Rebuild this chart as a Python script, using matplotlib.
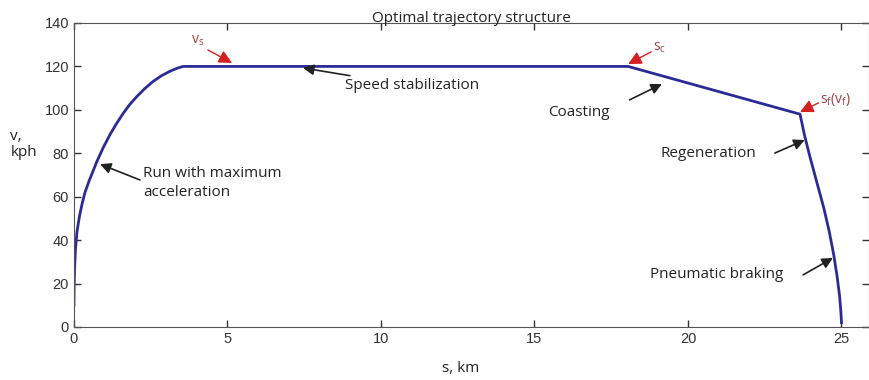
import numpy as np
import matplotlib.pyplot as plt

plt.rcParams['font.family'] = 'Liberation Sans'

# trajectory segments: s in km, v in kph
s_acc = [0, 0.005, 0.02, 0.05, 0.1, 0.18, 0.27, 0.36, 0.5, 0.74, 0.95, 1.17,
         1.4, 1.61, 1.82, 2.04, 2.3, 2.57, 2.85, 3.13, 3.35, 3.55]
v_acc = [10, 18, 27, 36, 44, 51, 57, 62, 67.5, 76, 82.5, 88.5,
         94, 98.5, 102.5, 106, 109.7, 113, 115.7, 117.8, 119.1, 120]
s_cruise = [3.55, 18.05]
v_cruise = [120, 120]
s_coast = [18.05, 23.65]
v_coast = [120, 98]
s_brake = [23.65, 23.8, 23.97, 24.19, 24.42, 24.6, 24.75, 24.86, 24.94,
           24.98, 25.0]
v_brake = [98, 88, 78.5, 67, 55, 44, 33, 23, 14, 7, 2]

s = np.concatenate([s_acc, s_cruise[1:], s_coast[1:], s_brake[1:]])
v = np.concatenate([v_acc, v_cruise[1:], v_coast[1:], v_brake[1:]])

fig = plt.figure(figsize=(8.7, 3.8), dpi=100)
ax = fig.add_axes([0.085, 0.1395, 0.914, 0.8])

ax.plot(s, v, color='#2b2b95', lw=2, solid_joinstyle='round')

ax.set_xlim(0, 25.9)
ax.set_ylim(0, 140)
ax.set_xticks([0, 5, 10, 15, 20, 25])
ax.set_yticks(np.arange(0, 141, 20))
ax.tick_params(direction='in', top=True, right=True, length=5,
               labelsize=10.5, colors='#333333', width=1)
for sp in ax.spines.values():
    sp.set_color('#555555')

ax.set_title('Optimal trajectory structure', fontsize=11, family='Open Sans',
             pad=1, color='#222222')
fig.text(0.53, 0.02, 's, km', fontsize=11, family='Open Sans', ha='center',
         color='#222222')
fig.text(0.012, 0.62, 'v,\nkph', fontsize=11, family='Open Sans', ha='left',
         va='center', color='#222222', linespacing=1.1)

txt = dict(fontsize=11, family='Open Sans', color='#222222', va='center')
blk = dict(arrowstyle='-|>', color='#222222', lw=1.2,
           mutation_scale=16, shrinkA=0, shrinkB=0)

ax.annotate('Speed stabilization', xy=(7.46, 119.3), xytext=(8.83, 111), **txt,
            arrowprops=blk)
ax.annotate('', xy=(19.15, 111.9), xytext=(18.1, 104.6), arrowprops=blk)
ax.text(15.44, 98.6, 'Coasting', **txt)
ax.annotate('', xy=(23.8, 86.1), xytext=(22.83, 80.1), arrowprops=blk)
ax.text(19.09, 80.1, 'Regeneration', **txt)
ax.annotate('', xy=(24.72, 31.8), xytext=(23.75, 24), arrowprops=blk)
ax.text(18.76, 24, 'Pneumatic braking', **txt)
ax.annotate('', xy=(0.85, 75), xytext=(2.15, 67.7), arrowprops=blk)
ax.text(2.25, 66.3, 'Run with maximum\nacceleration', linespacing=1.3, **txt)

red = dict(arrowstyle='-|>', color='#d42020', lw=1.0,
           mutation_scale=20, shrinkA=0, shrinkB=0)
rtxt = dict(fontsize=10, family='Open Sans', color='#a04040', va='center')
ax.annotate('', xy=(5.15, 121.6), xytext=(4.36, 127.6), arrowprops=red)
ax.text(3.8, 132, r'v$_\mathregular{s}$', **rtxt)
ax.annotate('', xy=(18.05, 121.1), xytext=(18.8, 126.7), arrowprops=red)
ax.text(18.85, 128.5, r's$_\mathregular{c}$', **rtxt)
ax.annotate('', xy=(23.65, 99), xytext=(24.25, 103.2), arrowprops=red)
ax.text(24.3, 104.6, r's$_\mathregular{f}$(v$_\mathregular{f}$)', **rtxt)

fig.savefig('out.png', dpi=100)
